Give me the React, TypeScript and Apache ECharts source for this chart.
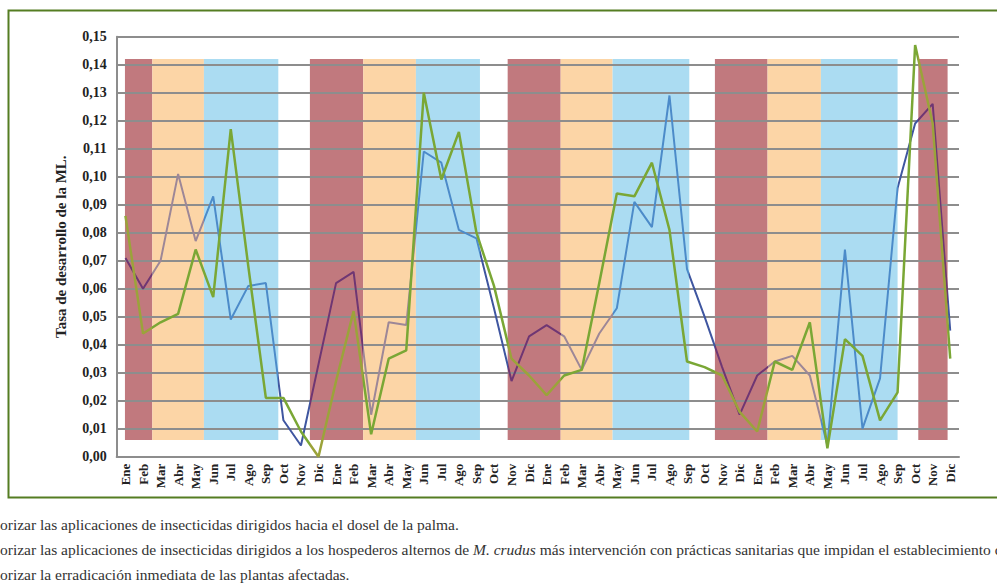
import React, { useEffect, useRef } from "react";
import * as echarts from "echarts";

// ---------- data ----------
const months = ["Ene", "Feb", "Mar", "Abr", "May", "Jun", "Jul", "Ago", "Sep", "Oct", "Nov", "Dic"];
const categories = [...months, ...months, ...months, ...months];

const seriesBlue = [
  0.071, 0.060, 0.070, 0.101, 0.077, 0.093, 0.049, 0.061, 0.062, 0.013, 0.004, 0.033,
  0.062, 0.066, 0.015, 0.048, 0.047, 0.109, 0.105, 0.081, 0.078, 0.053, 0.027, 0.043,
  0.047, 0.043, 0.031, 0.044, 0.053, 0.091, 0.082, 0.129, 0.067, 0.050, 0.032, 0.015,
  0.029, 0.034, 0.036, 0.029, 0.004, 0.074, 0.010, 0.028, 0.096, 0.119, 0.126, 0.045,
];
const seriesGreen = [
  0.086, 0.044, 0.048, 0.051, 0.074, 0.057, 0.117, 0.068, 0.021, 0.021, 0.009, 0.000,
  0.027, 0.052, 0.008, 0.035, 0.038, 0.130, 0.099, 0.116, 0.080, 0.061, 0.035, 0.029,
  0.022, 0.029, 0.031, 0.062, 0.094, 0.093, 0.105, 0.081, 0.034, 0.032, 0.029, 0.016,
  0.009, 0.034, 0.031, 0.048, 0.003, 0.042, 0.036, 0.013, 0.023, 0.147, 0.119, 0.035,
];

// season bands, in category units along the x axis
const bandStart = [0.47, 2.03, 4.97, 11.01, 14.05, 17.05, 22.28, 25.3, 28.26, 34.09, 37.09, 40.13, 45.68];
const bandEnd = [2.03, 4.97, 9.21, 14.05, 17.05, 20.7, 25.3, 28.26, 32.63, 37.09, 40.13, 44.5, 47.35];
const bandSeason = ["red", "orange", "blue", "red", "orange", "blue", "red", "orange", "blue", "red", "orange", "blue", "red"];
const bandTop = 0.142;
const bandBottom = 0.006;

const yMin = 0;
const yMax = 0.15;
const yStep = 0.01;

const yAxisName = "Tasa de desarrollo de la ML.";
const noteLine1 = "orizar las aplicaciones de insecticidas dirigidos hacia el dosel de la palma.";
const noteLine2a = "orizar las aplicaciones de insecticidas dirigidos a los hospederos alternos de ";
const noteLine2b = "M. crudus";
const noteLine2c = " más intervención con prácticas sanitarias que impidan el establecimiento de";
const noteLine3 = "orizar la erradicación inmediata de las plantas afectadas.";

// ---------- styles ----------
const bandColors: Record<string, string> = { red: "#c1797e", orange: "#fcd5a6", blue: "#abdcf2" };
const blueLineColors: Record<string, string> = { red: "#6f3673", orange: "#9d8797", blue: "#4c8bc9" };
const blueLineOther = "#3f56a0";
const greenLineColors: Record<string, string> = { red: "#9ba33a" };
const greenLineOther = "#7aa735";
const gridColor = "#8d8d8d";
const serif = '"Liberation Serif", "Times New Roman", serif';
const noteSize = 15.5;

export default function App() {
  const ref = useRef<HTMLDivElement>(null);

  useEffect(() => {
    if (!ref.current) return;
    const chart = echarts.init(ref.current, undefined, { renderer: "svg" });

    const bandData = bandStart.map((s, i) => [s, bandEnd[i], bandTop, bandBottom, i]);

    const bluePieces = bandStart.map((s, i) => ({ gte: s, lt: bandEnd[i], color: blueLineColors[bandSeason[i]] }));
    const greenPieces = bandStart.map((s, i) => ({
      gte: s,
      lt: bandEnd[i],
      color: greenLineColors[bandSeason[i]] || greenLineOther,
    }));

    const option: any = {
      animation: false,
      grid: { left: 116.7, right: 38, top: 36.7, bottom: 129.3, outerBoundsMode: "none" },
      xAxis: [
        {
          type: "category",
          data: categories,
          boundaryGap: true,
          axisLine: { show: true, lineStyle: { color: gridColor, width: 2 } },
          axisTick: { show: false },
          axisLabel: {
            interval: 0,
            rotate: 90,
            margin: 7,
            fontFamily: serif,
            fontWeight: "bold",
            fontSize: 13,
            color: "#222",
          },
          splitLine: { show: false },
        },
        {
          type: "value",
          min: 0,
          max: categories.length,
          show: false,
          splitLine: { show: false },
        },
      ],
      yAxis: {
        type: "value",
        min: yMin,
        max: yMax,
        interval: yStep,
        z: 1,
        name: yAxisName,
        nameLocation: "middle",
        nameGap: 48,
        nameTextStyle: { fontFamily: serif, fontWeight: "bold", fontSize: 15, color: "#222" },
        axisLine: { show: true, lineStyle: { color: gridColor, width: 2 } },
        axisTick: { show: false },
        axisLabel: {
          margin: 10,
          fontFamily: serif,
          fontWeight: "bold",
          fontSize: 14,
          color: "#222",
          formatter: (v: number) => v.toFixed(2).replace(".", ","),
        },
        splitLine: { show: true, lineStyle: { color: gridColor, width: 2 } },
      },
      visualMap: [
        {
          type: "piecewise",
          show: false,
          dimension: 0,
          seriesIndex: 1,
          pieces: bluePieces,
          outOfRange: { color: blueLineOther },
        },
        {
          type: "piecewise",
          show: false,
          dimension: 0,
          seriesIndex: 2,
          pieces: greenPieces,
          outOfRange: { color: greenLineOther },
        },
      ],
      series: [
        {
          type: "custom",
          xAxisIndex: 1,
          yAxisIndex: 0,
          z: 0,
          silent: true,
          data: bandData,
          encode: { x: [0, 1], y: [2, 3] },
          renderItem: (params: any, api: any) => {
            const p1 = api.coord([api.value(0), api.value(2)]);
            const p2 = api.coord([api.value(1), api.value(3)]);
            const idx = api.value(4);
            return {
              type: "rect",
              shape: { x: p1[0], y: p1[1], width: p2[0] - p1[0], height: p2[1] - p1[1] },
              style: { fill: bandColors[bandSeason[idx]] },
            };
          },
        },
        {
          type: "line",
          xAxisIndex: 1,
          yAxisIndex: 0,
          z: 2,
          showSymbol: false,
          lineStyle: { width: 2 },
          data: seriesBlue.map((v, i) => [i + 0.5, v]),
        },
        {
          type: "line",
          xAxisIndex: 1,
          yAxisIndex: 0,
          z: 3,
          showSymbol: false,
          lineStyle: { width: 2.5 },
          data: seriesGreen.map((v, i) => [i + 0.5, v]),
        },
      ],
      graphic: [
        {
          type: "rect",
          silent: true,
          shape: { x: 8.5, y: 10.5, width: 1000, height: 487 },
          style: { fill: "none", stroke: "#557d22", lineWidth: 2 },
        },
        {
          type: "text",
          x: 0,
          y: 524,
          style: { text: noteLine1, fontFamily: serif, fontSize: noteSize, fill: "#333", verticalAlign: "middle" },
        },
        {
          type: "text",
          x: 0,
          y: 549,
          style: {
            text: `{n|${noteLine2a}}{i|${noteLine2b}}{n|${noteLine2c}}`,
            verticalAlign: "middle",
            rich: {
              n: { fontFamily: serif, fontSize: noteSize, fill: "#333" },
              i: { fontFamily: serif, fontSize: noteSize, fill: "#333", fontStyle: "italic" },
            },
          },
        },
        {
          type: "text",
          x: 0,
          y: 574,
          style: { text: noteLine3, fontFamily: serif, fontSize: noteSize, fill: "#333", verticalAlign: "middle" },
        },
      ],
    };

    chart.setOption(option);
    return () => chart.dispose();
  }, []);

  return (
    <div
      ref={ref}
      style={{ position: "absolute", left: 0, top: 0, width: 997, height: 586, background: "#fff" }}
    />
  );
}
